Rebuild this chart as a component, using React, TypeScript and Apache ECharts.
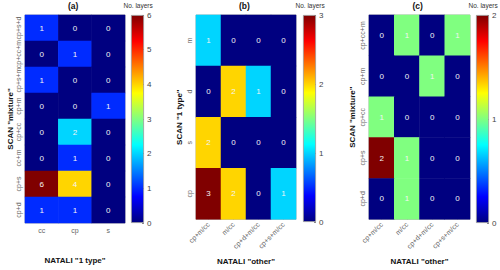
import React, { useEffect, useRef } from "react";
import * as echarts from "echarts";

// Panel (a): NATALI "1 type" vs SCAN "mixture"
const aX = ["cc", "cp", "s"];
const aY = ["cp+s+d", "cp+cc+m", "cp+s+m", "cp+m", "cp+cc", "cc+m", "cp+s", "cp+d"]; // top to bottom
const aVals = [
  [1, 0, 0],
  [0, 1, 0],
  [1, 0, 0],
  [0, 0, 1],
  [0, 2, 0],
  [0, 1, 0],
  [6, 4, 0],
  [1, 1, 0],
];
const aMax = 6;

// Panel (b): NATALI "other" vs SCAN "1 type"
const bX = ["cp+m/cc", "m/cc", "cp+d+m/cc", "cp+s+m/cc"];
const bY = ["m", "d", "s", "cp"];
const bVals = [
  [1, 0, 0, 0],
  [0, 2, 1, 0],
  [2, 0, 0, 0],
  [3, 2, 0, 1],
];
const bMax = 3;

// Panel (c): NATALI "other" vs SCAN "mixture"
const cX = ["cp+m/cc", "m/cc", "cp+d+m/cc", "cp+s+m/cc"];
const cY = ["cp+cc+m", "cp+m", "cp+cc", "cp+s", "cp+d"];
const cVals = [
  [0, 1, 0, 1],
  [0, 0, 1, 0],
  [1, 0, 0, 0],
  [2, 1, 0, 0],
  [0, 1, 0, 0],
];
const cMax = 2;

const titles = ["(a)", "(b)", "(c)"];
const xNames = ['NATALI "1 type"', 'NATALI "other"', 'NATALI "other"'];
const yNames = ['SCAN "mixture"', 'SCAN "1 type"', 'SCAN "mixture"'];

const JET = [
  "#000080", "#0000ff", "#0080ff", "#00ffff", "#80ff80",
  "#ffff00", "#ff8000", "#ff0000", "#800000",
];

const FONT = "Liberation Sans";

function toCells(vals: number[][]) {
  const out: number[][] = [];
  vals.forEach((row, yi) => row.forEach((v, xi) => out.push([xi, yi, v])));
  return out;
}

export default function App() {
  const ref = useRef<HTMLDivElement>(null);
  useEffect(() => {
    if (!ref.current) return;
    const chart = echarts.init(ref.current, undefined, { renderer: "svg" });

    const panels = [
      { x: aX, y: aY, v: aVals, max: aMax, grid: { left: 25, top: 15, width: 100, height: 208 }, cb: { left: 131, top: 15, width: 13, height: 208 }, rot: 0, yGap: 11, xGap: 33 },
      { x: bX, y: bY, v: bVals, max: bMax, grid: { left: 196, top: 15, width: 100, height: 207 }, cb: { left: 303, top: 15, width: 13, height: 207 }, rot: 45, yGap: 13, xGap: 35 },
      { x: cX, y: cY, v: cVals, max: cMax, grid: { left: 369, top: 15, width: 101, height: 208 }, cb: { left: 476, top: 15, width: 13, height: 208 }, rot: 45, yGap: 13, xGap: 35 },
    ];

    const grids: any[] = [];
    const xAxes: any[] = [];
    const yAxes: any[] = [];
    const series: any[] = [];
    const visualMaps: any[] = [];
    const texts: any[] = [];

    const gradStops = JET.map((c, i) => ({ offset: i / (JET.length - 1), color: c }));

    panels.forEach((p, i) => {
      const gi = grids.length;
      grids.push({ ...p.grid, show: true, borderColor: "#999", borderWidth: 0.8, backgroundColor: "transparent" });
      xAxes.push({
        type: "category", gridIndex: gi, data: p.x,
        name: xNames[i], nameLocation: "middle", nameGap: p.xGap,
        nameTextStyle: { fontFamily: FONT, fontSize: 8, fontWeight: "bold", color: "#111" },
        axisLine: { show: false },
        axisTick: { show: true, inside: true, alignWithLabel: true, length: 2, interval: 0, lineStyle: { color: "#888" } },
        axisLabel: { fontFamily: FONT, fontSize: 7, color: "#666", rotate: p.rot, margin: 4, interval: 0 },
        splitLine: { show: false },
      });
      yAxes.push({
        type: "category", gridIndex: gi, data: p.y, inverse: true,
        name: yNames[i], nameLocation: "middle", nameGap: p.yGap, nameRotate: 90,
        nameTextStyle: { fontFamily: FONT, fontSize: 8, fontWeight: "bold", color: "#111" },
        axisLine: { show: false },
        axisTick: { show: true, inside: true, alignWithLabel: true, length: 2, interval: 0, lineStyle: { color: "#888" } },
        axisLabel: { fontFamily: FONT, fontSize: 7, color: "#666", rotate: 90, margin: 3, interval: 0 },
        splitLine: { show: false },
      });
      const si = series.length;
      series.push({
        type: "heatmap", xAxisIndex: gi, yAxisIndex: gi,
        data: toCells(p.v),
        label: { show: true, color: "#f4f4f4", fontFamily: FONT, fontSize: 8 },
        itemStyle: { borderWidth: 0 },
        emphasis: { disabled: true },
      });
      visualMaps.push({
        type: "continuous", show: false, seriesIndex: si, min: 0, max: p.max, dimension: 2,
        inRange: { color: JET },
      });

      // colorbar
      const ci = grids.length;
      grids.push({ ...p.cb, show: false });
      xAxes.push({ type: "category", gridIndex: ci, data: ["bar"], show: false });
      yAxes.push({
        type: "value", gridIndex: ci, min: 0, max: p.max, interval: 1, position: "right",
        axisLine: { show: false },
        axisTick: { show: true, inside: true, length: 2, lineStyle: { color: "#888" } },
        axisLabel: { fontFamily: FONT, fontSize: 8, color: "#444", margin: 3 },
        splitLine: { show: false },
      });
      series.push({
        type: "bar", xAxisIndex: ci, yAxisIndex: ci, barWidth: "100%",
        data: [p.max],
        itemStyle: {
          color: { type: "linear", x: 0, y: 1, x2: 0, y2: 0, colorStops: gradStops },
          borderColor: "#999", borderWidth: 0.8,
        },
        emphasis: { disabled: true },
        z: 1,
      });

      texts.push({
        type: "text", left: p.cb.left + p.cb.width / 2 - 14, top: 2,
        style: { text: "No. layers", fontFamily: FONT, fontSize: 6.5, fill: "#333" },
      });
      texts.push({
        type: "text", left: p.grid.left + p.grid.width / 2 - 7, top: 1,
        style: { text: titles[i], fontFamily: FONT, fontSize: 8.5, fontWeight: "bold", fill: "#111" },
      });
    });

    chart.setOption({
      animation: false,
      backgroundColor: "#fff",
      textStyle: { fontFamily: FONT },
      grid: grids,
      xAxis: xAxes,
      yAxis: yAxes,
      visualMap: visualMaps,
      series,
      graphic: texts,
    });
    return () => chart.dispose();
  }, []);
  return <div ref={ref} style={{ position: "fixed", left: 0, top: 0, width: 500, height: 270 }} />;
}
